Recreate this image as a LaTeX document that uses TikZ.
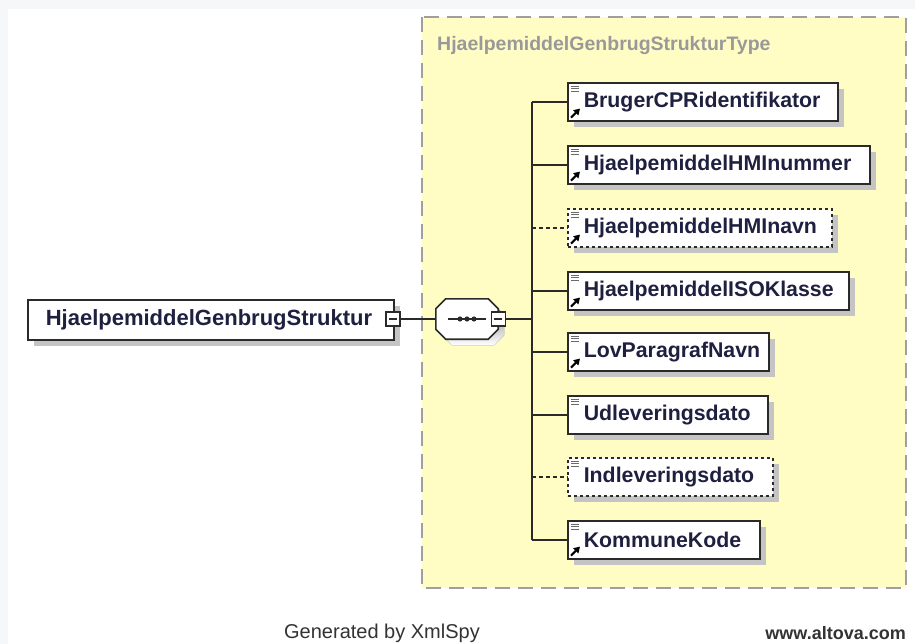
\documentclass[tikz,border=0pt]{standalone}
\usepackage{fontspec}
\setmainfont{Liberation Sans}
\usetikzlibrary{shadows,calc,arrows.meta}
\definecolor{ybg}{HTML}{FFFDC4}
\definecolor{pagegrey}{HTML}{F6F7F9}
\definecolor{txt}{HTML}{1F2040}
\definecolor{shade}{HTML}{C4C4C4}
\definecolor{lnk}{HTML}{2A2A2A}
\tikzset{
  elbox/.style={draw=lnk, line width=1.6pt, fill=white, minimum height=38pt, inner xsep=0pt,
    text=txt, font=\bfseries\fontsize{21.3}{22}\selectfont, align=left,
    drop shadow={shadow xshift=6pt, shadow yshift=-6pt, fill=shade, opacity=1}},
  wd/.style={text width=#1, minimum width=#1},
  optbox/.style={elbox, dash pattern=on 3pt off 3pt},
  minusbox/.style={draw=lnk, line width=1.2pt, fill=white, minimum size=14pt, inner sep=0pt,
    path picture={\draw[line width=1.2pt, lnk] ([xshift=3pt]path picture bounding box.west) -- ([xshift=-3pt]path picture bounding box.east);}},
  conn/.style={draw=lnk, line width=1.5pt},
  optconn/.style={conn, dash pattern=on 4pt off 3pt},
}
\newcommand{\elicons}[2]{%
  \draw[lnk!70, line width=0.9pt] ([shift={(4,4)}]#1.north west) -- ++(8,0)
    ([shift={(4,6.5)}]#1.north west) -- ++(8,0)
    ([shift={(4,9)}]#1.north west) -- ++(8,0);
  \ifx#2y\draw[black, line width=2pt, -{Triangle[length=6pt,width=7pt]}] ([shift={(4,-4)}]#1.south west) -- ++(9,-9);\fi
}
\newcommand{\pad}{\hspace*{16pt}}
\begin{document}
\begin{tikzpicture}[x=1pt,y=-1pt]
\useasboundingbox (0,0) rectangle (915,644);
\fill[pagegrey] (0,0) rectangle (915,644);
\fill[white] (8,9) rectangle (915,644);
% type box
\draw[fill=ybg, draw=gray!75, line width=2pt, dash pattern=on 15pt off 8pt] (422,17) rectangle (906,588);
\node[anchor=west, text=gray!80, font=\bfseries\fontsize{19.5}{20}\selectfont, inner sep=0pt] (title) at (437,46) {HjaelpemiddelGenbrugStrukturType};
% root
\node[elbox, wd=366pt, minimum height=40pt, anchor=north west, font=\bfseries\fontsize{22}{22}\selectfont] (root) at (27,299) {\hspace*{18pt}HjaelpemiddelGenbrugStruktur};
\node[minusbox] (rm) at (393,319) {};
% sequence compositor
\node[minimum width=62pt, minimum height=40pt, inner sep=0pt] (seq) at (467,319) {};
\fill[shade] ([shift={(16,6)}]seq.north west) -- ([shift={(-4,6)}]seq.north east) -- ([shift={(6,16)}]seq.north east) -- ([shift={(6,-4)}]seq.south east) -- ([shift={(-4,6)}]seq.south east) -- ([shift={(16,6)}]seq.south west) -- ([shift={(6,-4)}]seq.south west) -- ([shift={(6,16)}]seq.north west) -- cycle;
\draw[draw=lnk, line width=1.6pt, fill=white] ([shift={(10,0)}]seq.north west) -- ([shift={(-10,0)}]seq.north east) -- ([shift={(0,10)}]seq.north east) -- ([shift={(0,-10)}]seq.south east) -- ([shift={(-10,0)}]seq.south east) -- ([shift={(10,0)}]seq.south west) -- ([shift={(0,-10)}]seq.south west) -- ([shift={(0,10)}]seq.north west) -- cycle;
\draw[lnk, line width=1.3pt] ([shift={(12,0)}]seq.west) -- ([shift={(-12,0)}]seq.east);
\foreach \dx in {-7,0,7} \fill[lnk] ([shift={(\dx,0)}]seq.center) circle (2.6pt);
\node[minusbox] (sm) at (seq.east) {};
\draw[conn] (rm.east) -- (seq.west);
\draw[conn] (sm.east) -- ++(26,0) coordinate (bus);
% children
\node[elbox, wd=270pt, anchor=north west] (c1) at (567,82) {\pad BrugerCPRidentifikator};
\node[elbox, wd=302pt, anchor=north west] (c2) at (567,145) {\pad HjaelpemiddelHMInummer};
\node[optbox, wd=264pt, anchor=north west] (c3) at (567,208) {\pad HjaelpemiddelHMInavn};
\node[elbox, wd=281pt, anchor=north west] (c4) at (567,271) {\pad HjaelpemiddelISOKlasse};
\node[elbox, wd=201pt, anchor=north west] (c5) at (567,332) {\pad LovParagrafNavn};
\node[elbox, wd=200pt, anchor=north west] (c6) at (567,395) {\pad Udleveringsdato};
\node[optbox, wd=205pt, anchor=north west] (c7) at (567,457) {\pad Indleveringsdato};
\node[elbox, wd=192pt, anchor=north west] (c8) at (567,520) {\pad KommuneKode};
\elicons{c1}{y}\elicons{c2}{y}\elicons{c3}{y}\elicons{c4}{y}
\elicons{c5}{y}\elicons{c6}{n}\elicons{c7}{n}\elicons{c8}{y}
\draw[conn] (bus |- c1.west) -- (bus |- c8.west);
\foreach \c in {c1,c2,c4,c5,c6,c8} \draw[conn] (bus |- \c.west) -- (\c.west);
\foreach \c in {c3,c7} \draw[optconn] (bus |- \c.west) -- (\c.west);
% footer
\node[text=black!80, font=\fontsize{20}{20}\selectfont, inner sep=0pt] (gen) at (382,633) {Generated by XmlSpy};
\node[text=black!80, font=\bfseries\fontsize{18}{20}\selectfont, inner sep=0pt, anchor=east] (url) at (906,633) {www.altova.com};
\end{tikzpicture}
\end{document}
